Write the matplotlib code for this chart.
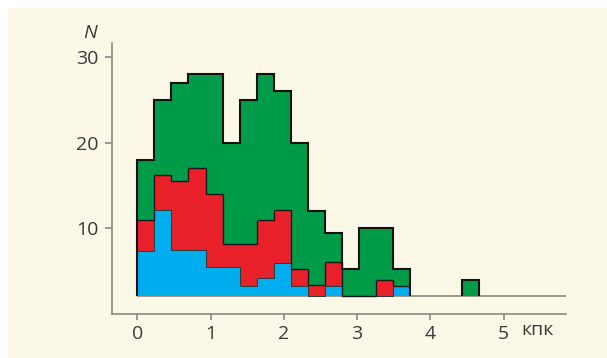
import numpy as np
import matplotlib.pyplot as plt
from matplotlib.patches import Rectangle

plt.rcParams['font.family'] = ['Open Sans', 'DejaVu Sans']

# bin width in кпк, 20 bins starting at 0
bin_width = 0.233
n_bins = 20
base = 2.1  # level where the bars start

# top of each stacked layer (N), base means empty
total_top = [18, 25, 27, 28, 28, 20, 25, 28, 26, 20, 12, 9.5, 5.2, 10, 10, 5.2,
             base, base, base, 4.0]
red_top = [11, 16.2, 15.5, 17, 14, 8.2, 8.2, 11, 12.1, 5.2, 3.4, 6.1, base, base,
           4.0, 3.3, base, base, base, base]
blue_top = [7.3, 12.1, 7.5, 7.5, 5.5, 5.5, 3.3, 4.2, 5.9, 3.3, base, 3.3, base, base,
            base, 3.3, base, base, base, base]

x_ticks = [0, 1, 2, 3, 4, 5]
y_ticks = [10, 20, 30]

green = '#009b48'
red = '#e8202a'
blue = '#00adee'
cream = '#fcf8e8'
axis_grey = '#8c8a80'
text_col = '#3a3a3a'

edges = np.arange(n_bins + 1) * bin_width
total_top = np.array(total_top)
red_top = np.array(red_top)
blue_top = np.array(blue_top)

fig = plt.figure(figsize=(6.07, 3.58), dpi=100)
fig.patch.set_facecolor('white')
fig.patches.append(Rectangle((8 / 607, 0), 1, 350 / 358, transform=fig.transFigure,
                             facecolor=cream, edgecolor='none', zorder=-5))

ax = fig.add_axes([0.185, 0.1229, 0.7475, 0.756])
ax.set_facecolor('none')

# stacked layers as filled stairs
ax.stairs(total_top, edges, baseline=red_top, fill=True, color=green, zorder=2)
ax.stairs(red_top, edges, baseline=blue_top, fill=True, color=red, zorder=2)
ax.stairs(blue_top, edges, baseline=base, fill=True, color=blue, zorder=2)

# boundaries between layers (only over the main block)
ax.stairs(blue_top[:16], edges[:17], baseline=None, color='#2a3a3a', lw=0.7, zorder=3)
ax.stairs(red_top[:16], edges[:17], baseline=None, color='#1a1a1a', lw=1.0, zorder=3)

# outer outline, main block and the lone bar
ax.hlines(base, 0, 5.85, color=axis_grey, lw=1.2, zorder=1)
ax.stairs(total_top[:16], edges[:17], baseline=base, fill=False, color='#111111',
          lw=1.5, zorder=4)
ax.stairs(total_top[19:], edges[19:], baseline=base, fill=False, color='#111111',
          lw=1.5, zorder=4)

ax.set_xlim(-0.34, 5.85)
ax.set_ylim(0, 31.6)
ax.set_xticks(x_ticks)
ax.set_yticks(y_ticks)
ax.spines['top'].set_visible(False)
ax.spines['right'].set_visible(False)
for s in ('left', 'bottom'):
    ax.spines[s].set_color(axis_grey)
    ax.spines[s].set_linewidth(1.2)
ax.tick_params(axis='both', colors=axis_grey, labelcolor=text_col, labelsize=14,
               width=1.2)
ax.tick_params(axis='y', length=5, pad=5)
ax.tick_params(axis='x', length=4, pad=4)

fig.text(90 / 607, 1 - 33 / 358, 'N', style='italic', fontsize=14, color=text_col,
         ha='center', va='center')
fig.text(521 / 607, 1 - 330 / 358, 'кпк', fontsize=14, color=text_col,
         ha='left', va='center')

fig.savefig('out.png', dpi=100)
